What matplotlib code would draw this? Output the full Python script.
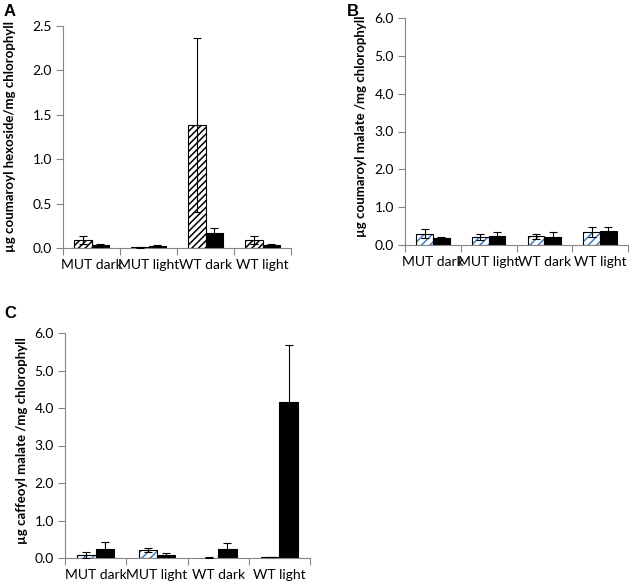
import matplotlib
matplotlib.use("Agg")
import matplotlib.pyplot as plt
import numpy as np

plt.rcParams['font.family'] = ['Lato', 'DejaVu Sans']
plt.rcParams['hatch.linewidth'] = 1.1

categories = ["MUT dark", "MUT light", "WT dark", "WT light"]

# Panel A: coumaroyl hexoside
a_hatched = [0.09, 0.01, 1.39, 0.09]
a_hatched_err = [0.05, 0.005, 0.98, 0.05]
a_black = [0.03, 0.02, 0.17, 0.03]
a_black_err = [0.02, 0.01, 0.06, 0.02]

# Panel B: coumaroyl malate
b_hatched = [0.30, 0.21, 0.23, 0.34]
b_hatched_err = [0.12, 0.08, 0.07, 0.13]
b_black = [0.19, 0.24, 0.20, 0.37]
b_black_err = [0.02, 0.10, 0.15, 0.11]

# Panel C: caffeoyl malate
c_hatched = [0.07, 0.21, 0.01, 0.03]
c_hatched_err = [0.08, 0.06, 0.005, 0.01]
c_black = [0.24, 0.08, 0.25, 4.15]
c_black_err = [0.20, 0.05, 0.15, 1.53]

W, H = 632, 586
fig = plt.figure(figsize=(W / 100, H / 100), dpi=100)

def axes_px(l, r, t, b):
    return fig.add_axes([l / W, (H - b) / H, (r - l) / W, (b - t) / H])

GREY = "#868686"

def panel(ax, hv, he, bv, be, ymax, ystep, ylabel, blue, barw, lab_xy):
    x = np.arange(len(categories))
    if blue:
        ax.bar(x - barw / 2, hv, barw, color="white", edgecolor="#3f7fc8",
               hatch="////", linewidth=0, zorder=2)
        ax.bar(x - barw / 2, hv, barw, color="none", edgecolor="black",
               linewidth=0.8, zorder=3)
    else:
        ax.bar(x - barw / 2, hv, barw, color="white", edgecolor="black",
               hatch="/////", linewidth=0.8, zorder=2)
    ax.bar(x + barw / 2, bv, barw, color="black", edgecolor="black",
           linewidth=0.8, zorder=2)
    ax.errorbar(x - barw / 2, hv, yerr=he, fmt="none", ecolor="black",
                elinewidth=0.8, capsize=3, capthick=0.8, zorder=4)
    ax.errorbar(x + barw / 2, bv, yerr=be, fmt="none", ecolor="black",
                elinewidth=0.8, capsize=3, capthick=0.8, zorder=4)
    ax.set_xlim(-0.5, len(categories) - 0.5)
    ax.set_ylim(0, ymax)
    yt = np.arange(0, ymax + 1e-9, ystep)
    ax.set_yticks(yt)
    ax.set_yticklabels(["{:.1f}".format(v) for v in yt], fontsize=10)
    ax.set_xticks(np.arange(len(categories) + 1) - 0.5)
    ax.set_xticklabels([])
    ax.set_xticks(x, minor=True)
    ax.set_xticklabels(categories, minor=True, fontsize=10)
    ax.tick_params(axis="x", which="minor", length=0, pad=8)
    ax.tick_params(axis="x", which="major", length=5, color=GREY, width=0.8)
    ax.tick_params(axis="y", length=5, color=GREY, width=0.8, pad=3)
    for s in ["top", "right"]:
        ax.spines[s].set_visible(False)
    for s in ["left", "bottom"]:
        ax.spines[s].set_color(GREY)
        ax.spines[s].set_linewidth(0.8)
    ax.set_ylabel(ylabel, fontsize=9.5, fontweight="bold")
    ax.yaxis.set_label_coords(*lab_xy)

axA = axes_px(63, 291, 26, 248)
panel(axA, a_hatched, a_hatched_err, a_black, a_black_err, 2.5, 0.5,
      "µg coumaroyl hexoside/mg chlorophyll", False, 0.3,
      ((16 - 63) / 228, 0.5))

axB = axes_px(405, 628, 18, 245)
panel(axB, b_hatched, b_hatched_err, b_black, b_black_err, 6.0, 1.0,
      "µg coumaroyl malate /mg chlorophyll", True, 0.3,
      ((367 - 405) / 223, 0.525))

axC = axes_px(65, 310, 333, 558)
panel(axC, c_hatched, c_hatched_err, c_black, c_black_err, 6.0, 1.0,
      "µg caffeoyl malate /mg chlorophyll", True, 0.3,
      ((28 - 65) / 245, 0.52))

for lx, ly, s in [(4, 12, "A"), (347, 11, "B"), (4, 314, "C")]:
    fig.text(lx / W, 1 - ly / H, s, fontsize=12, fontweight="bold",
             family=["Liberation Sans", "DejaVu Sans"], va="center", ha="left")

fig.savefig("out.png", dpi=100)
